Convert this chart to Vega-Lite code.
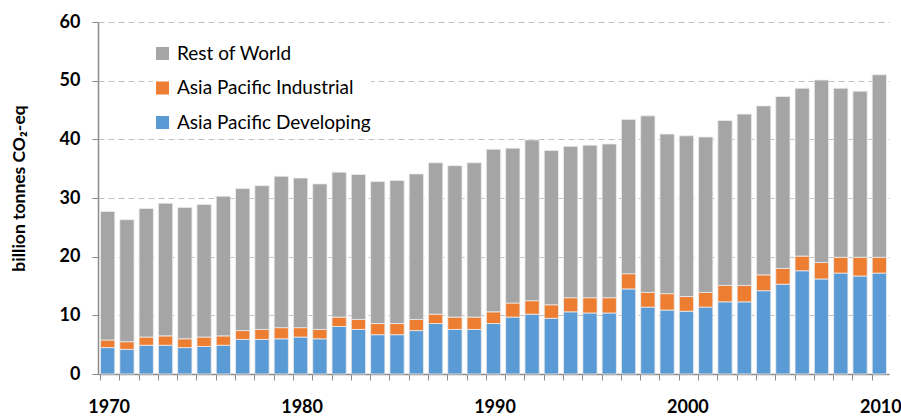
{
  "$schema": "https://vega.github.io/schema/vega-lite/v6.json",
  "autosize": {"type": "none"},
  "width": 791,
  "height": 352,
  "padding": {"left": 98, "top": 22, "right": 12, "bottom": 43},
  "background": "white",
  "config": {"view": {"stroke": null}, "font": "Lato"},
  "data": {"values": [
    {"year":1970,"series":"Asia Pacific Developing","value":4.5},{"year":1970,"series":"Asia Pacific Industrial","value":1.3},{"year":1970,"series":"Rest of World","value":21.9},
    {"year":1971,"series":"Asia Pacific Developing","value":4.2},{"year":1971,"series":"Asia Pacific Industrial","value":1.3},{"year":1971,"series":"Rest of World","value":20.8},
    {"year":1972,"series":"Asia Pacific Developing","value":4.9},{"year":1972,"series":"Asia Pacific Industrial","value":1.4},{"year":1972,"series":"Rest of World","value":21.9},
    {"year":1973,"series":"Asia Pacific Developing","value":4.9},{"year":1973,"series":"Asia Pacific Industrial","value":1.6},{"year":1973,"series":"Rest of World","value":22.6},
    {"year":1974,"series":"Asia Pacific Developing","value":4.5},{"year":1974,"series":"Asia Pacific Industrial","value":1.5},{"year":1974,"series":"Rest of World","value":22.4},
    {"year":1975,"series":"Asia Pacific Developing","value":4.7},{"year":1975,"series":"Asia Pacific Industrial","value":1.6},{"year":1975,"series":"Rest of World","value":22.6},
    {"year":1976,"series":"Asia Pacific Developing","value":4.9},{"year":1976,"series":"Asia Pacific Industrial","value":1.6},{"year":1976,"series":"Rest of World","value":23.8},
    {"year":1977,"series":"Asia Pacific Developing","value":5.9},{"year":1977,"series":"Asia Pacific Industrial","value":1.5},{"year":1977,"series":"Rest of World","value":24.2},
    {"year":1978,"series":"Asia Pacific Developing","value":5.9},{"year":1978,"series":"Asia Pacific Industrial","value":1.7},{"year":1978,"series":"Rest of World","value":24.5},
    {"year":1979,"series":"Asia Pacific Developing","value":6.0},{"year":1979,"series":"Asia Pacific Industrial","value":1.9},{"year":1979,"series":"Rest of World","value":25.8},
    {"year":1980,"series":"Asia Pacific Developing","value":6.3},{"year":1980,"series":"Asia Pacific Industrial","value":1.6},{"year":1980,"series":"Rest of World","value":25.5},
    {"year":1981,"series":"Asia Pacific Developing","value":6.0},{"year":1981,"series":"Asia Pacific Industrial","value":1.6},{"year":1981,"series":"Rest of World","value":24.8},
    {"year":1982,"series":"Asia Pacific Developing","value":8.1},{"year":1982,"series":"Asia Pacific Industrial","value":1.6},{"year":1982,"series":"Rest of World","value":24.7},
    {"year":1983,"series":"Asia Pacific Developing","value":7.6},{"year":1983,"series":"Asia Pacific Industrial","value":1.7},{"year":1983,"series":"Rest of World","value":24.7},
    {"year":1984,"series":"Asia Pacific Developing","value":6.7},{"year":1984,"series":"Asia Pacific Industrial","value":1.9},{"year":1984,"series":"Rest of World","value":24.2},
    {"year":1985,"series":"Asia Pacific Developing","value":6.7},{"year":1985,"series":"Asia Pacific Industrial","value":1.9},{"year":1985,"series":"Rest of World","value":24.4},
    {"year":1986,"series":"Asia Pacific Developing","value":7.4},{"year":1986,"series":"Asia Pacific Industrial","value":1.9},{"year":1986,"series":"Rest of World","value":24.8},
    {"year":1987,"series":"Asia Pacific Developing","value":8.6},{"year":1987,"series":"Asia Pacific Industrial","value":1.6},{"year":1987,"series":"Rest of World","value":25.8},
    {"year":1988,"series":"Asia Pacific Developing","value":7.6},{"year":1988,"series":"Asia Pacific Industrial","value":2.1},{"year":1988,"series":"Rest of World","value":25.8},
    {"year":1989,"series":"Asia Pacific Developing","value":7.6},{"year":1989,"series":"Asia Pacific Industrial","value":2.1},{"year":1989,"series":"Rest of World","value":26.3},
    {"year":1990,"series":"Asia Pacific Developing","value":8.6},{"year":1990,"series":"Asia Pacific Industrial","value":2.0},{"year":1990,"series":"Rest of World","value":27.7},
    {"year":1991,"series":"Asia Pacific Developing","value":9.7},{"year":1991,"series":"Asia Pacific Industrial","value":2.4},{"year":1991,"series":"Rest of World","value":26.4},
    {"year":1992,"series":"Asia Pacific Developing","value":10.2},{"year":1992,"series":"Asia Pacific Industrial","value":2.3},{"year":1992,"series":"Rest of World","value":27.4},
    {"year":1993,"series":"Asia Pacific Developing","value":9.5},{"year":1993,"series":"Asia Pacific Industrial","value":2.3},{"year":1993,"series":"Rest of World","value":26.3},
    {"year":1994,"series":"Asia Pacific Developing","value":10.6},{"year":1994,"series":"Asia Pacific Industrial","value":2.4},{"year":1994,"series":"Rest of World","value":25.8},
    {"year":1995,"series":"Asia Pacific Developing","value":10.4},{"year":1995,"series":"Asia Pacific Industrial","value":2.6},{"year":1995,"series":"Rest of World","value":26.0},
    {"year":1996,"series":"Asia Pacific Developing","value":10.4},{"year":1996,"series":"Asia Pacific Industrial","value":2.6},{"year":1996,"series":"Rest of World","value":26.2},
    {"year":1997,"series":"Asia Pacific Developing","value":14.5},{"year":1997,"series":"Asia Pacific Industrial","value":2.6},{"year":1997,"series":"Rest of World","value":26.3},
    {"year":1998,"series":"Asia Pacific Developing","value":11.4},{"year":1998,"series":"Asia Pacific Industrial","value":2.5},{"year":1998,"series":"Rest of World","value":30.1},
    {"year":1999,"series":"Asia Pacific Developing","value":10.9},{"year":1999,"series":"Asia Pacific Industrial","value":2.8},{"year":1999,"series":"Rest of World","value":27.2},
    {"year":2000,"series":"Asia Pacific Developing","value":10.7},{"year":2000,"series":"Asia Pacific Industrial","value":2.5},{"year":2000,"series":"Rest of World","value":27.4},
    {"year":2001,"series":"Asia Pacific Developing","value":11.4},{"year":2001,"series":"Asia Pacific Industrial","value":2.5},{"year":2001,"series":"Rest of World","value":26.5},
    {"year":2002,"series":"Asia Pacific Developing","value":12.3},{"year":2002,"series":"Asia Pacific Industrial","value":2.8},{"year":2002,"series":"Rest of World","value":28.1},
    {"year":2003,"series":"Asia Pacific Developing","value":12.3},{"year":2003,"series":"Asia Pacific Industrial","value":2.8},{"year":2003,"series":"Rest of World","value":29.2},
    {"year":2004,"series":"Asia Pacific Developing","value":14.2},{"year":2004,"series":"Asia Pacific Industrial","value":2.7},{"year":2004,"series":"Rest of World","value":28.8},
    {"year":2005,"series":"Asia Pacific Developing","value":15.3},{"year":2005,"series":"Asia Pacific Industrial","value":2.7},{"year":2005,"series":"Rest of World","value":29.3},
    {"year":2006,"series":"Asia Pacific Developing","value":17.6},{"year":2006,"series":"Asia Pacific Industrial","value":2.5},{"year":2006,"series":"Rest of World","value":28.6},
    {"year":2007,"series":"Asia Pacific Developing","value":16.2},{"year":2007,"series":"Asia Pacific Industrial","value":2.8},{"year":2007,"series":"Rest of World","value":31.1},
    {"year":2008,"series":"Asia Pacific Developing","value":17.2},{"year":2008,"series":"Asia Pacific Industrial","value":2.7},{"year":2008,"series":"Rest of World","value":28.8},
    {"year":2009,"series":"Asia Pacific Developing","value":16.7},{"year":2009,"series":"Asia Pacific Industrial","value":3.2},{"year":2009,"series":"Rest of World","value":28.3},
    {"year":2010,"series":"Asia Pacific Developing","value":17.2},{"year":2010,"series":"Asia Pacific Industrial","value":2.7},{"year":2010,"series":"Rest of World","value":31.1}
  ]},
  "mark": {"type": "bar", "stroke": "#ececec", "strokeWidth": 0.8},
  "encoding": {
    "x": {
      "field": "year", "type": "ordinal",
      "scale": {"paddingInner": 0.26, "paddingOuter": 0.13},
      "axis": {
        "title": null,
        "labelAngle": 0,
        "bandPosition": 0,
        "labelOffset": 1.5,
        "labelExpr": "datum.value % 10 == 0 ? datum.label : ''",
        "labelFont": "Lato", "labelFontSize": 18, "labelFontWeight": "bold", "labelColor": "#000000",
        "labelPadding": 18,
        "labelOverlap": false,
        "tickSize": 6, "tickColor": "#8c8c8c", "tickWidth": 1,
        "domainColor": "#8c8c8c", "domainWidth": 1.5,
        "grid": false
      }
    },
    "y": {
      "field": "value", "type": "quantitative", "aggregate": "sum",
      "stack": "zero",
      "scale": {"domain": [0, 60], "nice": false},
      "axis": {
        "title": "billion tonnes CO₂-eq",
        "titleFont": "Lato", "titleFontSize": 17.5, "titleFontWeight": "bold", "titleColor": "#000000",
        "titleX": -79, "titleY": 166, "titleAngle": -90, "titleAlign": "center", "titleBaseline": "middle",
        "values": [0, 10, 20, 30, 40, 50, 60],
        "labelFont": "Lato", "labelFontSize": 18, "labelFontWeight": "bold", "labelColor": "#000000",
        "labelPadding": 12,
        "tickSize": 6, "tickColor": "#8c8c8c", "tickWidth": 1,
        "domainColor": "#8c8c8c", "domainWidth": 1.5,
        "grid": true, "gridColor": "#c0c0c0", "gridDash": [6, 4], "gridWidth": 1.2
      }
    },
    "color": {
      "field": "series", "type": "nominal",
      "scale": {
        "domain": ["Rest of World", "Asia Pacific Industrial", "Asia Pacific Developing"],
        "range": ["#A5A5A5", "#ED7D31", "#5B9BD5"]
      },
      "legend": {
        "title": null,
        "orient": "none",
        "legendX": 55,
        "legendY": 22,
        "symbolType": "square",
        "symbolSize": 169,
        "symbolStrokeWidth": 0,
        "labelFont": "Lato", "labelFontSize": 19, "labelColor": "#000000",
        "labelLimit": 400,
        "labelOffset": 5,
        "rowPadding": 14.5,
        "fillColor": "white"
      }
    },
    "order": {"field": "series", "type": "nominal", "sort": "ascending"}
  }
}
